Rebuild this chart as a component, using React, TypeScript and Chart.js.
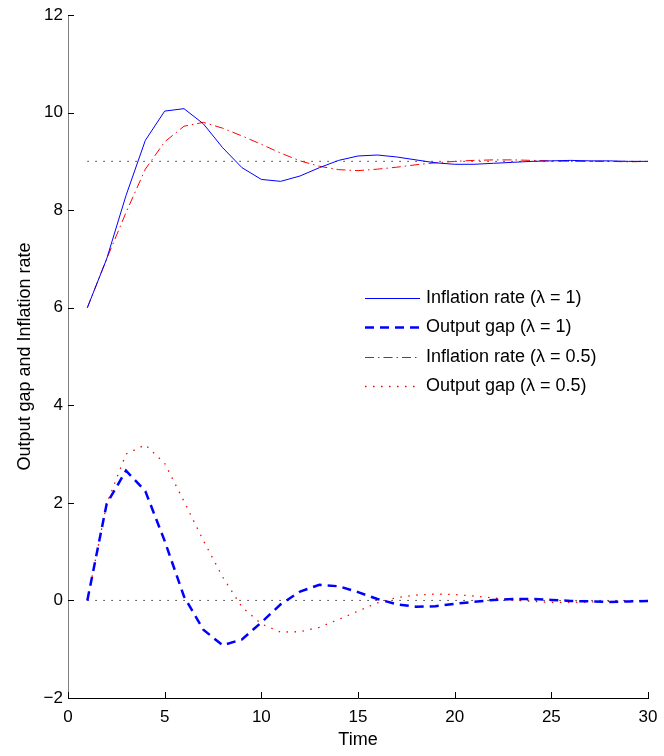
import React, { useEffect, useRef } from 'react';
import { Chart, registerables } from 'chart.js';

Chart.register(...registerables);

const time = [1, 2, 3, 4, 5, 6, 7, 8, 9, 10, 11, 12, 13, 14, 15, 16, 17, 18, 19, 20, 21, 22, 23, 24, 25, 26, 27, 28, 29, 30];

const inflationL1 = [6.0, 7.0, 8.3, 9.43, 10.03, 10.08, 9.77, 9.28, 8.87, 8.63, 8.59, 8.70, 8.87, 9.02, 9.11, 9.13, 9.09, 9.03, 8.97, 8.94, 8.94, 8.96, 8.98, 9.0, 9.01, 9.02, 9.01, 9.01, 9.0, 9.0];
const outputL1 = [0, 1.98, 2.66, 2.24, 1.22, 0.08, -0.6, -0.92, -0.8, -0.45, -0.08, 0.18, 0.32, 0.29, 0.17, 0.03, -0.08, -0.13, -0.12, -0.07, -0.03, 0.01, 0.03, 0.03, 0.01, -0.01, -0.02, -0.03, -0.02, -0.01];
const inflationL05 = [6.0, 7.0, 7.95, 8.84, 9.4, 9.72, 9.8, 9.68, 9.52, 9.35, 9.17, 9.01, 8.9, 8.83, 8.81, 8.84, 8.88, 8.93, 8.97, 9.0, 9.02, 9.03, 9.03, 9.02, 9.01, 9.0, 9.0, 9.0, 8.99, 9.0];
const outputL05 = [0, 1.98, 3.0, 3.19, 2.81, 2.03, 1.23, 0.48, -0.14, -0.48, -0.65, -0.64, -0.55, -0.39, -0.22, -0.05, 0.06, 0.11, 0.13, 0.12, 0.09, 0.05, 0.01, -0.02, -0.04, -0.04, -0.03, -0.02, -0.01, 0.0];

const steadyInflation = 9;
const steadyGap = 0;

const seriesLabels = [
  'Inflation rate (λ = 1)',
  'Output gap (λ = 1)',
  'Inflation rate (λ = 0.5)',
  'Output gap (λ = 0.5)',
];

const FONT = '"Liberation Sans", Arial, Helvetica, sans-serif';

const toXY = (vals: number[]) => vals.map((v, i) => ({ x: time[i], y: v }));

const innerTicksAndLegend = {
  id: 'innerTicksAndLegend',
  afterDraw(chart: any) {
    const { ctx, chartArea, scales } = chart;
    const { left, bottom } = chartArea;
    const xs = scales.x;
    const ys = scales.y;
    ctx.save();
    ctx.strokeStyle = '#000';
    ctx.lineWidth = 1;
    ctx.setLineDash([]);
    ctx.beginPath();
    xs.ticks.forEach((t: any) => {
      const px = Math.round(xs.getPixelForValue(t.value)) + 0.5;
      ctx.moveTo(px, bottom);
      ctx.lineTo(px, bottom - 6);
    });
    ys.ticks.forEach((t: any) => {
      const py = Math.round(ys.getPixelForValue(t.value)) + 0.5;
      ctx.moveTo(left, py);
      ctx.lineTo(left + 6, py);
    });
    ctx.stroke();

    // legend
    const x0 = 365;
    const x1 = 420;
    const tx = 426;
    const y0 = 298;
    const dy = 29.3;
    ctx.font = `18px ${FONT}`;
    ctx.textBaseline = 'middle';
    ctx.textAlign = 'left';
    chart.data.datasets.forEach((ds: any, i: number) => {
      if (ds.hideInLegend) return;
      const yy = Math.round(y0 + i * dy) + 0.5;
      ctx.beginPath();
      ctx.strokeStyle = ds.borderColor;
      ctx.lineWidth = ds.borderWidth;
      ctx.setLineDash(ds.borderDash || []);
      ctx.moveTo(x0, yy);
      ctx.lineTo(x1, yy);
      ctx.stroke();
      ctx.setLineDash([]);
      ctx.fillStyle = '#000';
      ctx.fillText(ds.label, tx, yy);
    });
    ctx.restore();
  },
};

export default function App() {
  const ref = useRef<HTMLCanvasElement | null>(null);

  useEffect(() => {
    if (!ref.current) return;
    const chart = new Chart(ref.current, {
      type: 'line',
      data: {
        datasets: [
          {
            label: seriesLabels[0],
            data: toXY(inflationL1),
            borderColor: '#0000ff',
            borderWidth: 1,
            borderDash: [],
            pointRadius: 0,
            tension: 0,
          },
          {
            label: seriesLabels[1],
            data: toXY(outputL1),
            borderColor: '#0000ff',
            borderWidth: 2.5,
            borderDash: [9, 6],
            pointRadius: 0,
            tension: 0,
          },
          {
            label: seriesLabels[2],
            data: toXY(inflationL05),
            borderColor: '#ff0000',
            borderWidth: 1,
            borderDash: [9, 4, 1.5, 4],
            pointRadius: 0,
            tension: 0,
          },
          {
            label: seriesLabels[3],
            data: toXY(outputL05),
            borderColor: '#ff0000',
            borderWidth: 1.3,
            borderDash: [1.5, 6.5],
            pointRadius: 0,
            tension: 0,
          },
          {
            label: 'steady inflation',
            data: [
              { x: time[0], y: steadyInflation },
              { x: time[time.length - 1], y: steadyInflation },
            ],
            borderColor: '#333',
            borderWidth: 1,
            borderDash: [1.5, 6.5],
            pointRadius: 0,
            hideInLegend: true,
          } as any,
          {
            label: 'steady gap',
            data: [
              { x: time[0], y: steadyGap },
              { x: time[time.length - 1], y: steadyGap },
            ],
            borderColor: '#333',
            borderWidth: 1,
            borderDash: [1.5, 6.5],
            pointRadius: 0,
            hideInLegend: true,
          } as any,
        ],
      },
      options: {
        responsive: false,
        animation: false,
        devicePixelRatio: 1,
        layout: { padding: { top: 15, right: 16, left: 0, bottom: 0 } },
        plugins: {
          legend: { display: false },
          tooltip: { enabled: false },
        },
        scales: {
          x: {
            type: 'linear',
            min: 0,
            max: 30,
            ticks: {
              stepSize: 5,
              color: '#000',
              font: { family: FONT, size: 17 },
              padding: 9,
              maxRotation: 0,
            },
            grid: { display: false, drawTicks: false },
            border: { display: true, color: '#000', width: 1 },
            title: {
              display: true,
              text: 'Time',
              color: '#000',
              font: { family: FONT, size: 18 },
              padding: { top: 0, bottom: 5 },
            },
            afterFit: (s: any) => {
              s.height = 58;
              s.paddingLeft = 0;
              s.paddingRight = 0;
            },
          },
          y: {
            type: 'linear',
            min: -2,
            max: 12,
            ticks: {
              stepSize: 2,
              color: '#000',
              font: { family: FONT, size: 17 },
              padding: 5,
              callback: (v: any) => String(v).replace('-', '−'),
            },
            grid: { display: false, drawTicks: false },
            border: { display: true, color: '#808080', width: 1 },
            title: {
              display: true,
              text: 'Output gap and Inflation rate',
              color: '#000',
              font: { family: FONT, size: 18 },
              padding: { top: 14, bottom: 0 },
            },
            afterFit: (s: any) => {
              s.width = 68;
              s.paddingTop = 0;
              s.paddingBottom = 0;
            },
          },
        },
      },
      plugins: [innerTicksAndLegend],
    });
    return () => chart.destroy();
  }, []);

  return (
    <div style={{ position: 'absolute', left: 0, top: 0, width: 664, height: 756, background: '#fff' }}>
      <canvas ref={ref} width={664} height={756} />
    </div>
  );
}
